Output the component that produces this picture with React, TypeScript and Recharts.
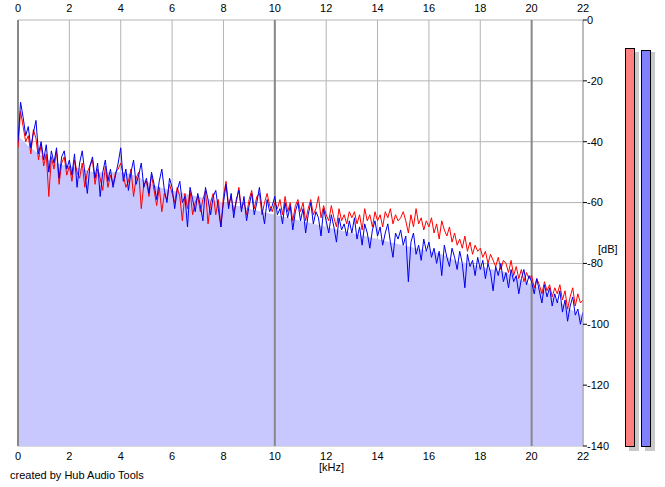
import React from "react";
import { ComposedChart, Line, Area, XAxis, YAxis, CartesianGrid, ReferenceLine } from "recharts";

if (typeof document !== "undefined") document.body.style.margin = "0";

const step = 0.1;
const blueDb = [
  -40,-27,-32,-38,-35,-42,-37,-33,-44,-40,
  -46,-41,-50,-43,-47,-42,-52,-45,-43,-49,
  -46,-51,-44,-55,-47,-43,-50,-57,-48,-45,
  -52,-47,-58,-50,-46,-53,-49,-55,-51,-47,
  -42,-53,-49,-56,-50,-46,-54,-51,-47,-55,
  -52,-57,-50,-54,-59,-53,-49,-56,-60,-52,
  -55,-62,-56,-53,-60,-58,-68,-55,-59,-63,
  -57,-61,-66,-55,-59,-64,-58,-56,-62,-68,
  -60,-54,-62,-57,-65,-59,-56,-63,-58,-66,
  -61,-57,-64,-60,-55,-62,-67,-59,-63,-61,
  -58,-64,-62,-67,-60,-65,-61,-69,-63,-60,
  -66,-62,-70,-64,-60,-67,-63,-65,-71,-62,
  -66,-70,-64,-68,-73,-65,-69,-67,-71,-66,
  -70,-65,-72,-68,-74,-67,-70,-75,-69,-66,
  -71,-68,-74,-70,-67,-73,-78,-70,-72,-69,
  -74,-71,-86,-73,-70,-77,-74,-79,-72,-76,
  -73,-78,-75,-80,-76,-84,-74,-78,-81,-75,
  -78,-82,-76,-80,-88,-77,-81,-79,-84,-78,
  -82,-79,-85,-80,-83,-89,-81,-84,-80,-86,
  -83,-88,-82,-86,-84,-90,-85,-82,-87,-84,
  -86,-90,-85,-89,-93,-87,-91,-88,-94,-90,
  -93,-89,-96,-92,-99,-94,-91,-97,-95,-100,
  -96,
];
const redDb = [
  -42,-30,-35,-40,-38,-44,-36,-39,-46,-41,
  -48,-44,-58,-45,-49,-43,-54,-47,-45,-51,
  -48,-53,-46,-50,-52,-47,-55,-50,-48,-46,
  -54,-49,-52,-56,-48,-55,-51,-54,-50,-49,
  -47,-51,-55,-53,-49,-58,-52,-50,-62,-54,
  -53,-58,-51,-56,-61,-55,-63,-57,-59,-54,
  -57,-60,-55,-58,-66,-57,-62,-56,-64,-60,
  -58,-63,-59,-56,-67,-60,-57,-64,-59,-68,
  -58,-53,-61,-58,-63,-60,-55,-62,-60,-64,
  -59,-56,-62,-58,-57,-64,-60,-57,-61,-63,
  -60,-62,-59,-64,-58,-63,-60,-66,-61,-59,
  -63,-60,-66,-62,-59,-64,-62,-58,-65,-61,
  -64,-66,-61,-65,-68,-62,-66,-64,-67,-63,
  -65,-63,-67,-64,-69,-62,-66,-64,-68,-63,
  -66,-64,-68,-63,-65,-62,-67,-64,-66,-65,
  -63,-66,-70,-64,-68,-62,-67,-65,-69,-66,
  -68,-65,-70,-67,-72,-66,-69,-71,-68,-73,
  -70,-74,-72,-75,-71,-76,-73,-77,-74,-76,
  -75,-78,-76,-80,-77,-79,-81,-78,-82,-79,
  -80,-83,-79,-84,-81,-85,-82,-86,-83,-85,
  -84,-88,-85,-87,-90,-86,-89,-87,-91,-88,
  -90,-87,-92,-89,-95,-91,-88,-94,-90,-93,
  -92,
];
const fillStep = 0.5;
const fillDb = [
  -38,-42,-45,-47,-48,-49,-50,-50,-50,-51,-53,-55,-56,-57,-58,-59,-60,-61,-62,-63,
  -64,-65,-66,-67,-68,-69,-70,-71,-72,-73,-74,-75,-76,-77,-79,-80,-81,-82,-83,-85,
  -87,-89,-92,-95,-97,
];
const kHzTicks = [0, 2, 4, 6, 8, 10, 12, 14, 16, 18, 20, 22];
const dbTicks = [0, -20, -40, -60, -80, -100, -120, -140];

const lineData = blueDb.map((b, i) => ({ f: +(i * step).toFixed(2), blue: b, red: redDb[i] }));
const fillData = fillDb.map((v, i) => ({ f: i * fillStep, env: v }));

const font = "'Liberation Sans', Arial, sans-serif";
const tickStyle = { fontSize: 11, fill: "#000", fontFamily: font };

export default function App() {
  return (
    <div style={{ position: "relative", width: 665, height: 487, background: "#fff", fontFamily: font }}>
      <ComposedChart width={665} height={487} margin={{ top: 0, left: 18, right: 0, bottom: 0 }}>
        <CartesianGrid stroke="#b4b4b4" xAxisId="t" yAxisId="y" />
        <XAxis xAxisId="t" dataKey="f" type="number" domain={[0, 22]} ticks={kHzTicks} orientation="top" height={20}
          axisLine={false} tickLine={false} tick={tickStyle} tickMargin={2} allowDataOverflow />
        <XAxis xAxisId="b" dataKey="f" type="number" domain={[0, 22]} ticks={kHzTicks} orientation="bottom" height={41}
          axisLine={false} tickLine={false} tick={tickStyle} tickMargin={0} allowDataOverflow />
        <YAxis yAxisId="y" type="number" domain={[-140, 0]} ticks={dbTicks} orientation="right" width={82}
          axisLine={{ stroke: "#a0a0a0" }} tickLine={{ stroke: "#000" }} tickSize={4} tick={{ ...tickStyle, textAnchor: "start" }} tickMargin={0} allowDataOverflow />
        <Area data={fillData} xAxisId="t" yAxisId="y" dataKey="env" type="monotone" baseValue={-140}
          stroke="none" fill="#c8c8ff" fillOpacity={1} isAnimationActive={false} />
        {[0, 10, 20].map((v) => (
          <ReferenceLine key={v} xAxisId="t" yAxisId="y" x={v} stroke="#888" strokeWidth={2} />
        ))}
        <Line data={lineData} xAxisId="b" yAxisId="y" dataKey="red" stroke="none" dot={false} legendType="none" isAnimationActive={false} />
        <Line data={lineData} xAxisId="t" yAxisId="y" dataKey="red" stroke="#ff0000" strokeWidth={1} dot={false} isAnimationActive={false} />
        <Line data={lineData} xAxisId="t" yAxisId="y" dataKey="blue" stroke="#0000ee" strokeWidth={1} dot={false} isAnimationActive={false} />
      </ComposedChart>
      <div style={{ position: "absolute", left: 598, top: 243, fontSize: 11 }}>[dB]</div>
      <div style={{ position: "absolute", left: 319, top: 461, fontSize: 11 }}>[kHz]</div>
      <div style={{ position: "absolute", left: 10, top: 469, fontSize: 11 }}>created by Hub Audio Tools</div>
      <div style={{ position: "absolute", left: 629, top: 52, width: 10, height: 399, background: "#c8c8c8" }} />
      <div style={{ position: "absolute", left: 645, top: 52, width: 10, height: 399, background: "#c8c8c8" }} />
      <div style={{ position: "absolute", left: 625, top: 48, width: 8, height: 397, background: "#ff8080", border: "1px solid #000" }} />
      <div style={{ position: "absolute", left: 641, top: 50, width: 8, height: 395, background: "#8080ff", border: "1px solid #000" }} />
    </div>
  );
}
